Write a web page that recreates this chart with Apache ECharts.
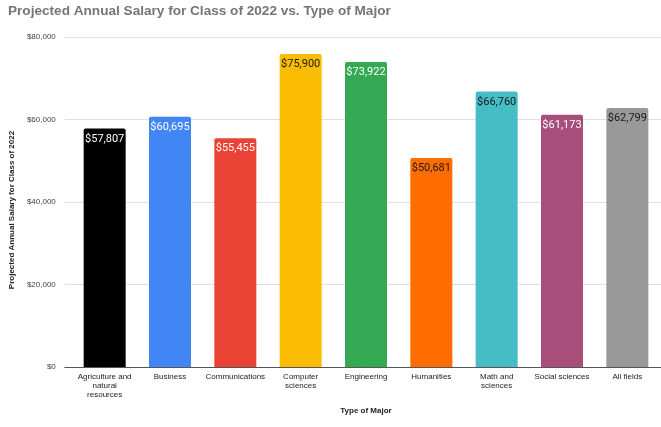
<!DOCTYPE html>
<html>
<head>
<meta charset="utf-8">
<script src="https://cdn.jsdelivr.net/npm/echarts@6/dist/echarts.min.js"></script>
<style>
  html, body { margin: 0; padding: 0; background: #fff; }
  #chart { width: 661px; height: 427px; }
</style>
</head>
<body>
<div id="chart"></div>
<script>
// chart data
const majors = [
  "Agriculture and\nnatural\nresources",
  "Business",
  "Communications",
  "Computer\nsciences",
  "Engineering",
  "Humanities",
  "Math and\nsciences",
  "Social sciences",
  "All fields"
];
const salaries = [57807, 60695, 55455, 75900, 73922, 50681, 66760, 61173, 62799];
const yTicks = { min: 0, max: 80000, interval: 20000 };

// styling
const barColors = ["#000000", "#4285f4", "#ea4335", "#fbbc04", "#34a853", "#ff6d01", "#46bdc6", "#a84e7b", "#999999"];
const darkLabel = [false, false, false, true, false, true, true, false, true];

const money = (v) => "$" + v.toLocaleString("en-US");

const chart = echarts.init(document.getElementById("chart"));
chart.setOption({
  animation: false,
  color: barColors,
  title: {
    text: "Projected Annual Salary for Class of 2022 vs. Type of Major",
    left: 3,
    top: -1,
    textStyle: { fontFamily: "Liberation Sans", fontSize: 13.6, fontWeight: "bold", color: "#757575" }
  },
  grid: [
    { left: 62, right: 0, top: 37, bottom: 60 },
    { left: 72, right: 1, top: 37, bottom: 60 }
  ],
  xAxis: [
    {
      gridIndex: 0,
      type: "category",
      data: majors,
      axisLine: { lineStyle: { color: "#555", width: 1 } },
      axisTick: { show: false },
      axisLabel: { show: false }
    },
    {
      gridIndex: 1,
      type: "category",
      data: majors,
      axisLine: { show: false },
      axisTick: { show: false },
      axisLabel: {
        interval: 0,
        margin: 5,
        fontFamily: "Liberation Sans",
        fontSize: 8,
        lineHeight: 9,
        color: "#222"
      },
      name: "Type of Major",
      nameLocation: "middle",
      nameGap: 40,
      nameTextStyle: { fontFamily: "Liberation Sans", fontSize: 8, fontWeight: "bold", color: "#222" }
    }
  ],
  yAxis: [
    {
      gridIndex: 0,
      type: "value",
      min: yTicks.min,
      max: yTicks.max,
      interval: yTicks.interval,
      axisLine: { show: false },
      axisTick: { show: false },
      axisLabel: {
        formatter: money,
        margin: 9,
        fontFamily: "Liberation Sans",
        fontSize: 8,
        color: "#444"
      },
      splitLine: { lineStyle: { color: "#e0e0e0" } },
      name: "Projected Annual Salary for Class of 2022",
      nameLocation: "middle",
      nameGap: 46,
      nameTextStyle: {
        fontFamily: "Liberation Sans",
        fontSize: 8,
        fontWeight: "bold",
        color: "#222",
        padding: [0, 16, 0, 0]
      }
    },
    {
      gridIndex: 1,
      type: "value",
      min: yTicks.min,
      max: yTicks.max,
      interval: yTicks.interval,
      show: false
    }
  ],
  series: [
    {
      type: "bar",
      xAxisIndex: 1,
      yAxisIndex: 1,
      data: salaries,
      colorBy: "data",
      barWidth: 42,
      itemStyle: { borderRadius: [2, 2, 0, 0] },
      label: {
        show: true,
        position: "insideTop",
        distance: 5,
        formatter: (p) => (darkLabel[p.dataIndex] ? "{d|" : "{w|") + money(p.value) + "}",
        rich: {
          w: { fontFamily: "Roboto", fontSize: 11, color: "#ffffff" },
          d: { fontFamily: "Roboto", fontSize: 11, color: "#1a1a1a" }
        }
      }
    }
  ]
});
</script>
</body>
</html>
